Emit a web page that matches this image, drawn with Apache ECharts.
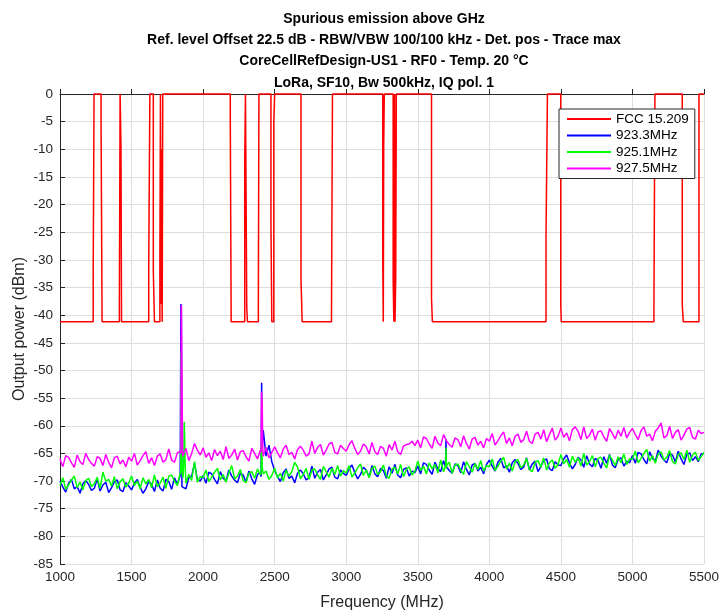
<!DOCTYPE html>
<html>
<head>
<meta charset="utf-8">
<title>Spurious emission above GHz</title>
<script src="https://cdn.jsdelivr.net/npm/echarts@6/dist/echarts.min.js"></script>
<style>
    html, body {margin: 0; padding: 0; background: #fff;}
    #chart {width: 723px; height: 610px;}
</style>
</head>
<body>
<div id="chart"></div>
<script>
// FCC 15.209 limit mask (stepped), MHz / dBm
const fccFreq = [
    1000, 1232, 1232, 1238, 1238, 1287, 1287, 1294, 1294,
    1415, 1415, 1420, 1420, 1426, 1426, 1430, 1430,
    1620, 1620, 1628, 1628, 1652, 1652, 1660, 1660,
    1698, 1698, 1702, 1702, 1706, 1706, 1710, 1710, 1714, 1714, 1718, 1718,
    2190, 2190, 2196, 2196,
    2291, 2291, 2296, 2296, 2305, 2305, 2310, 2310,
    2386, 2386, 2390, 2390, 2474, 2474, 2480, 2480, 2494, 2494, 2500, 2500,
    2684, 2684, 2692, 2692, 2897, 2897, 2904, 2904,
    3255, 3255, 3259, 3259, 3262, 3262, 3266, 3266,
    3328, 3328, 3333, 3333, 3338, 3338, 3341, 3341, 3346, 3346, 3350, 3350,
    3596, 3596, 3602, 3602, 4396, 4396, 4406, 4406,
    4499, 4499, 4503, 4503, 5150, 5150, 5157, 5157,
    5348, 5348, 5355, 5355, 5465, 5465, 5500
];
const fccLevel = [
    -41.2, -41.2, -32, -32, 0, 0, -5.3, -5.3, -41.2,
    -41.2, -37.8, -37.8, 0, 0, -9.4, -9.4, -41.2,
    -41.2, -31.1, -31.1, 0, 0, -32, -32, -41.2,
    -41.2, -30, -30, 0, 0, -38, -38, -10, -10, -41.2, -41.2, 0,
    0, -4.9, -4.9, -41.2,
    -41.2, -11.9, -11.9, 0, 0, -38.7, -38.7, -41.2,
    -41.2, -38.7, -38.7, 0, 0, -23.3, -23.3, -41.2, -41.2, -5, -5, 0,
    0, -33.5, -33.5, -41.2, -41.2, -39.4, -39.4, 0,
    0, -28.4, -28.4, -41.2, -41.2, -9.4, -9.4, 0,
    0, -33.8, -33.8, -41.2, -41.2, 0, 0, -41.2, -41.2, -33, -33, 0,
    0, -37, -37, -41.2, -41.2, -26.1, -26.1, 0,
    0, -38, -38, -41.2, -41.2, -39, -39, 0,
    0, -38, -38, -41.2, -41.2, 0, 0
];

// noise traces sampled every 20 MHz from 1000 to 5500 MHz (one row = 500 MHz)
const noiseStart = 1000;
const noiseStep = 20;

const blue923 = [
    -70.0, -71.1, -72.0, -70.4, -69.7, -71.4, -71.0, -72.2, -70.5, -69.9, -70.6, -71.7, -71.3, -69.6, -71.8, -70.7, -70.2, -72.1, -71.2, -70.1, -69.8, -71.6, -71.9, -70.3, -70.9,
    -71.6, -70.4, -69.7, -71.1, -72.2, -71.4, -70.1, -70.6, -71.9, -69.8, -71.3, -71.8, -69.7, -70.1, -71.5, -69.4, -70.6, -69.0, -70.9, -71.4, -69.4, -69.1, -66.8, -69.7, -70.0,
    -69.0, -70.4, -68.4, -68.7, -69.7, -70.5, -68.3, -69.5, -70.0, -68.0, -69.1, -69.8, -70.3, -68.6, -68.9, -70.2, -68.2, -69.6, -70.6, -68.8, -68.5, -60.8, -65.5, -63.5, -66.5,
    -68.1, -69.2, -70.1, -68.5, -67.8, -69.5, -69.1, -70.3, -68.6, -68.0, -68.7, -69.8, -69.4, -67.3, -69.5, -68.4, -67.9, -69.8, -68.9, -67.8, -67.5, -69.3, -69.6, -68.0, -68.6,
    -69.0, -67.8, -67.1, -68.5, -69.6, -68.8, -67.5, -68.0, -69.3, -67.2, -68.7, -69.2, -67.7, -68.1, -69.5, -67.4, -68.6, -67.0, -68.9, -69.4, -67.9, -67.6, -69.1, -68.2, -68.5,
    -67.3, -68.7, -66.7, -67.0, -68.0, -68.8, -66.6, -67.8, -68.3, -66.3, -67.4, -68.1, -68.6, -66.9, -67.2, -68.5, -66.5, -67.9, -68.9, -67.1, -66.8, -68.2, -67.5, -68.7, -67.0,
    -66.2, -67.3, -68.2, -66.6, -65.9, -67.6, -67.2, -68.4, -66.7, -66.1, -66.8, -67.9, -67.5, -65.8, -68.0, -66.9, -66.4, -68.3, -67.4, -66.3, -66.0, -67.8, -68.1, -66.5, -67.1,
    -67.2, -66.0, -65.3, -66.7, -67.8, -67.0, -65.7, -66.2, -67.5, -65.4, -66.9, -67.4, -65.9, -66.3, -67.7, -65.6, -66.8, -65.2, -67.1, -67.6, -66.1, -65.8, -67.3, -66.4, -66.7,
    -65.4, -66.8, -64.8, -65.1, -66.1, -66.9, -64.7, -65.9, -66.4, -64.4, -65.5, -66.2, -66.7, -65.0, -65.3, -66.6, -64.6, -66.0, -67.0, -65.2, -64.9, -66.3, -65.6, -66.5, -65.1,
    -65.0
];
const green925 = [
    -70.8, -69.4, -71.5, -70.7, -69.8, -69.1, -71.2, -70.2, -71.6, -69.9, -69.5, -71.0, -70.5, -69.3, -71.3, -68.4, -70.0, -69.7, -70.9, -69.2, -71.4, -70.1, -69.6, -71.1, -70.4,
    -69.1, -70.8, -70.0, -71.4, -69.4, -70.5, -69.7, -71.2, -68.9, -71.0, -70.4, -69.3, -71.3, -69.1, -68.9, -70.0, -70.8, -68.5, -69.4, -70.4, -68.8, -69.9, -66.5, -70.2, -69.2,
    -69.4, -68.0, -70.1, -69.3, -68.4, -67.7, -69.8, -68.8, -70.2, -68.5, -67.2, -69.6, -69.1, -67.9, -69.9, -70.3, -68.6, -68.3, -69.5, -67.8, -68.9, -68.7, -68.2, -69.7, -69.0,
    -67.7, -69.4, -68.6, -70.0, -68.0, -69.1, -68.3, -66.6, -67.5, -69.6, -68.8, -67.7, -69.7, -68.0, -67.8, -68.9, -69.7, -67.4, -68.3, -69.3, -67.7, -68.8, -67.2, -69.1, -68.1,
    -68.6, -67.2, -69.3, -68.5, -67.6, -66.9, -69.0, -68.0, -69.4, -67.7, -67.3, -68.8, -68.3, -67.1, -69.1, -69.5, -67.8, -67.5, -68.7, -67.0, -69.2, -67.9, -67.4, -68.9, -68.2,
    -66.4, -68.1, -67.3, -68.7, -66.7, -67.8, -67.0, -68.5, -66.2, -68.3, -67.7, -66.6, -68.6, -67.1, -66.9, -68.0, -68.8, -66.5, -67.4, -68.4, -66.8, -67.9, -66.3, -68.2, -67.2,
    -67.4, -66.0, -68.1, -67.3, -66.4, -65.7, -67.8, -66.8, -68.2, -66.5, -66.1, -67.6, -67.1, -65.9, -67.9, -68.3, -66.6, -66.3, -67.5, -65.8, -68.0, -66.7, -66.2, -67.7, -67.0,
    -65.2, -66.9, -66.1, -67.5, -65.5, -66.6, -65.8, -67.3, -65.0, -67.1, -66.5, -65.4, -67.4, -65.9, -65.7, -66.8, -67.6, -65.3, -66.2, -67.2, -65.6, -66.7, -65.1, -67.0, -66.0,
    -66.0, -64.6, -66.7, -65.9, -65.0, -64.3, -66.4, -65.4, -66.8, -65.1, -64.7, -66.2, -65.7, -64.5, -66.5, -66.9, -65.2, -64.9, -66.1, -64.4, -66.6, -65.3, -64.8, -66.3, -65.6,
    -64.8
];
const magenta927 = [
    -66.0, -67.4, -65.4, -65.7, -66.7, -67.5, -65.3, -66.5, -67.0, -65.0, -66.1, -66.8, -67.3, -65.6, -65.9, -67.2, -65.2, -66.6, -67.6, -65.8, -65.5, -66.9, -66.2, -67.4, -65.7,
    -66.4, -65.0, -67.1, -66.3, -65.4, -64.7, -66.8, -65.8, -67.2, -65.5, -65.1, -66.6, -66.1, -64.2, -66.2, -66.6, -64.9, -64.6, -65.8, -64.1, -66.3, -65.0, -63.2, -64.4, -65.3,
    -64.0, -65.7, -64.9, -66.3, -64.3, -65.4, -64.6, -66.1, -63.8, -65.9, -65.3, -64.2, -66.2, -64.7, -64.5, -65.6, -66.4, -64.1, -65.0, -66.0, -64.4, -65.5, -63.9, -65.8, -64.8,
    -63.8, -64.9, -65.8, -64.2, -63.5, -65.2, -64.8, -66.0, -64.3, -63.7, -64.4, -65.5, -65.1, -62.8, -65.0, -63.9, -63.4, -65.3, -64.4, -63.3, -63.0, -64.8, -65.1, -63.5, -64.1,
    -64.6, -63.4, -62.7, -64.1, -65.2, -64.6, -63.3, -63.8, -65.1, -63.0, -64.7, -65.2, -63.7, -64.1, -65.5, -63.4, -64.4, -62.8, -64.7, -65.2, -63.7, -63.4, -63.3, -62.8, -63.6,
    -62.6, -64.0, -62.0, -62.3, -63.3, -64.1, -61.9, -63.1, -63.6, -61.6, -62.7, -63.4, -63.9, -62.2, -62.5, -63.8, -61.8, -63.2, -64.2, -62.4, -62.1, -63.5, -62.8, -64.0, -62.3,
    -62.8, -61.4, -63.5, -62.7, -61.8, -61.1, -63.2, -62.2, -63.6, -61.9, -61.5, -63.0, -62.5, -61.0, -62.8, -63.2, -61.5, -61.2, -62.4, -60.7, -62.9, -61.6, -60.4, -62.6, -61.9,
    -60.4, -62.1, -61.3, -62.7, -60.7, -60.2, -61.0, -62.5, -60.2, -62.3, -61.7, -60.6, -62.6, -61.1, -60.9, -62.0, -62.8, -60.5, -61.4, -62.4, -60.8, -61.9, -60.3, -62.2, -61.2,
    -60.5, -61.6, -62.5, -60.9, -60.2, -61.9, -61.5, -62.7, -61.0, -60.4, -59.5, -62.2, -61.8, -60.1, -62.3, -61.2, -60.7, -62.6, -61.7, -60.6, -60.3, -62.1, -62.4, -60.8, -61.4,
    -61.2
];

// narrow spurs between the 20 MHz samples: [MHz, dBm]
const blueSpurs = [[1843, -50], [1845, -38], [1848, -38.5], [1852, -71], [2405, -69.2], [2409, -52.2], [2413, -64], [3694, -67.5], [3697, -62.5], [3701, -67.4]];
const greenSpurs = [[1844, -68], [1847, -46.5], [1850, -64], [1853, -68.5], [1865, -66], [1868, -59.3], [1871, -62], [1875, -67.5], [2405, -68.5], [2409, -61.5], [2413, -67.5], [3694, -67.3], [3697, -64], [3701, -67.2]];
const magentaSpurs = [[1845, -65], [1848, -38.2], [1851, -38.5], [1854, -56], [1857, -65.5], [2405, -64.8], [2408, -53.8], [2413, -56], [2417, -64]];

const seriesNames = ['FCC 15.209', '923.3MHz', '925.1MHz', '927.5MHz'];
const seriesColors = ['#ff0000', '#0000ff', '#00ff00', '#ff00ff'];

function traceData(values, spurs) {
    let pts = values.map(function(v, i) {
        return [noiseStart + i * noiseStep, v];
    });
    return pts.concat(spurs).sort(function(a, b) {
        return a[0] - b[0];
    });
}

const fccData = fccFreq.map(function(f, i) {
    return [f, fccLevel[i]];
});

const textColor = '#262626';
const font = 'Liberation Sans, Arial, Helvetica, sans-serif';

let chart = echarts.init(document.getElementById('chart'), null, {renderer: 'canvas'});

function lineSeries(name, data, color, clip) {
    return {
        name: name,
        type: 'line',
        data: data,
        showSymbol: false,
        symbol: 'none',
        clip: clip,
        lineStyle: {color: color, width: 1.5},
        itemStyle: {color: color},
        emphasis: {disabled: true}
    };
}

let option = {
    animation: false,
    color: seriesColors,
    title: {
        text: 'Spurious emission above GHz\nRef. level Offset 22.5 dB - RBW/VBW 100/100 kHz - Det. pos - Trace max\nCoreCellRefDesign-US1 - RF0 - Temp. 20 °C\nLoRa, SF10, Bw 500kHz, IQ pol. 1',
        left: 384,
        top: 8,
        padding: 0,
        textAlign: 'center',
        textStyle: {
            fontFamily: font,
            fontSize: 14,
            fontWeight: 'bold',
            color: '#000',
            lineHeight: 21.4
        }
    },
    legend: {
        data: seriesNames,
        orient: 'vertical',
        left: 559,
        top: 109,
        padding: [3, 6, 3, 8],
        itemGap: 2.5,
        itemWidth: 44,
        itemHeight: 2,
        icon: 'rect',
        backgroundColor: '#fff',
        borderColor: textColor,
        borderWidth: 1,
        borderRadius: 0,
        textStyle: {
            fontFamily: font,
            fontSize: 13.5,
            color: '#000',
            lineHeight: 14
        }
    },
    grid: {
        left: 60,
        right: 19,
        top: 94,
        bottom: 46,
        outerBoundsMode: 'none'
    },
    xAxis: {
        type: 'value',
        min: 1000,
        max: 5500,
        interval: 500,
        name: 'Frequency (MHz)',
        nameLocation: 'middle',
        nameGap: 31,
        nameMoveOverlap: false,
        nameTextStyle: {fontFamily: font, fontSize: 16, color: textColor},
        axisLine: {lineStyle: {color: textColor, width: 1}},
        axisTick: {inside: true, length: 5, lineStyle: {color: textColor}},
        axisLabel: {
            fontFamily: font,
            fontSize: 13.5,
            color: textColor,
            margin: 6,
            formatter: function(v) {
                return String(v);
            }
        },
        splitLine: {show: true, lineStyle: {color: '#dedede', width: 1}}
    },
    yAxis: {
        type: 'value',
        min: -85,
        max: 0,
        interval: 5,
        name: 'Output power (dBm)',
        nameLocation: 'middle',
        nameGap: 32,
        nameMoveOverlap: false,
        nameTextStyle: {fontFamily: font, fontSize: 16, color: textColor},
        axisLine: {show: true, lineStyle: {color: textColor, width: 1}},
        axisTick: {show: true, inside: true, length: 5, lineStyle: {color: textColor}},
        axisLabel: {fontFamily: font, fontSize: 13.5, color: textColor, margin: 7},
        splitLine: {show: true, lineStyle: {color: '#dedede', width: 1}}
    },
    series: [
        lineSeries(seriesNames[0], fccData, seriesColors[0], false),
        lineSeries(seriesNames[1], traceData(blue923, blueSpurs), seriesColors[1], true),
        lineSeries(seriesNames[2], traceData(green925, greenSpurs), seriesColors[2], true),
        lineSeries(seriesNames[3], traceData(magenta927, magentaSpurs), seriesColors[3], true)
    ]
};

chart.setOption(option);
</script>
</body>
</html>
